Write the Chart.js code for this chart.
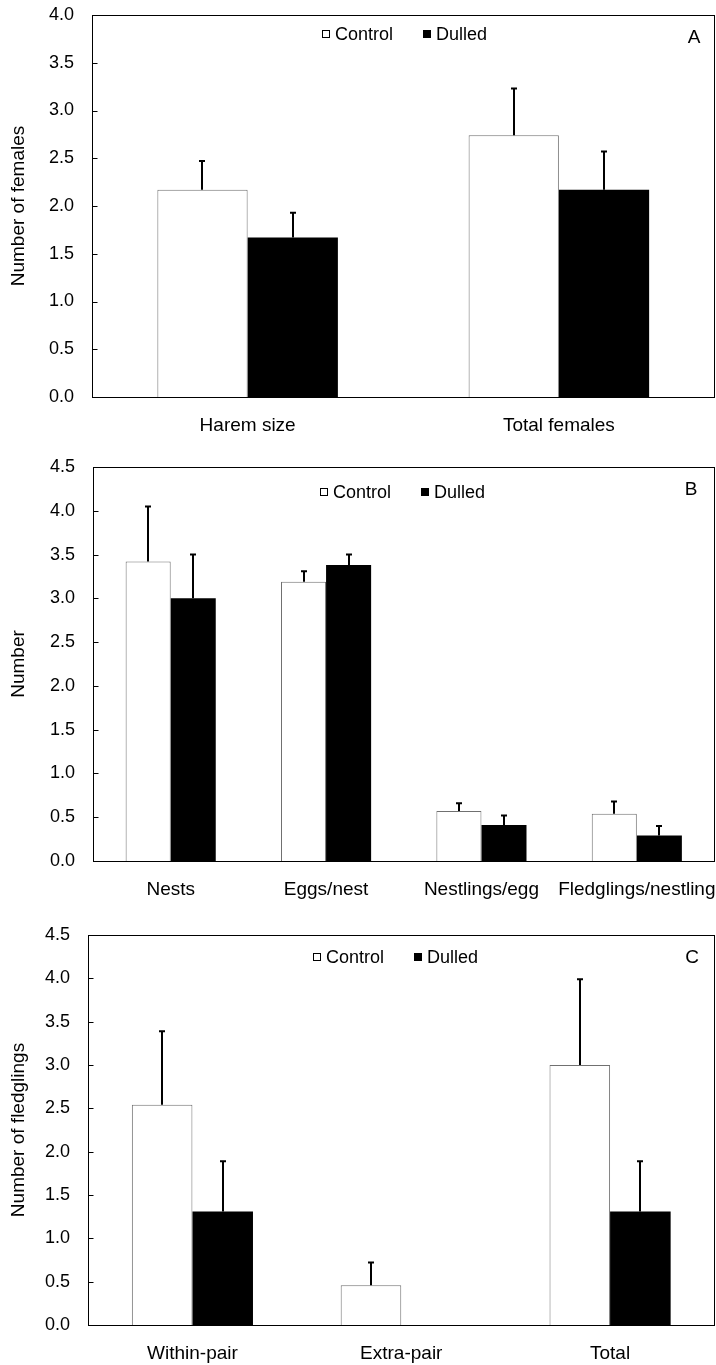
<!DOCTYPE html>
<html>
<head>
<meta charset="utf-8">
<script src="https://cdn.jsdelivr.net/npm/chart.js@4.4.1/dist/chart.umd.min.js"></script>
<style>
  body { margin: 0; background: #fff; width: 716px; height: 1365px; position: relative; overflow: hidden; }
  .panel { position: absolute; left: 0; width: 716px; }
</style>
</head>
<body>
<div class="panel" style="top:0;height:450px"><canvas id="chartA"></canvas></div>
<div class="panel" style="top:450px;height:455px"><canvas id="chartB"></canvas></div>
<div class="panel" style="top:905px;height:460px"><canvas id="chartC"></canvas></div>
<script>
// Panel A - females
const catsA = ['Harem size', 'Total females'];
const controlA = [2.17, 2.74];
const controlErrA = [0.30, 0.49];
const dulledA = [1.67, 2.17];
const dulledErrA = [0.26, 0.40];

// Panel B - nesting
const catsB = ['Nests', 'Eggs/nest', 'Nestlings/egg', 'Fledglings/nestling'];
const controlB = [3.42, 3.19, 0.57, 0.54];
const controlErrB = [0.63, 0.12, 0.09, 0.14];
const dulledB = [3.00, 3.38, 0.41, 0.29];
const dulledErrB = [0.50, 0.12, 0.11, 0.11];

// Panel C - fledglings
const catsC = ['Within-pair', 'Extra-pair', 'Total'];
const controlC = [2.54, 0.46, 3.00];
const controlErrC = [0.85, 0.26, 0.99];
const dulledC = [1.31, 0, 1.31];
const dulledErrC = [0.58, null, 0.58];

const seriesNames = ['Control', 'Dulled'];

Chart.defaults.font.family = '"Liberation Sans", Arial, sans-serif';
Chart.defaults.color = '#000';

// error bars, upper half only
const errorBars = {
    id: 'errorBars',
    afterDatasetsDraw(chart) {
        const ctx = chart.ctx;
        const y = chart.scales.y;
        chart.data.datasets.forEach((ds, i) => {
            const meta = chart.getDatasetMeta(i);
            meta.data.forEach((bar, j) => {
                const e = ds.errors[j];
                if (e == null) return;
                const top = y.getPixelForValue(ds.data[j] + e);
                const x = Math.round(bar.x);
                ctx.save();
                ctx.strokeStyle = '#000';
                ctx.lineWidth = 2;
                ctx.beginPath();
                ctx.moveTo(x, bar.y);
                ctx.lineTo(x, top);
                ctx.moveTo(x - 3, top);
                ctx.lineTo(x + 3, top);
                ctx.stroke();
                ctx.restore();
            });
        });
    }
};

// box frame, inner ticks, legend and panel letter
const decor = {
    id: 'decor',
    afterDraw(chart, args, opts) {
        const ctx = chart.ctx;
        const { left, right, top, bottom } = chart.chartArea;
        const y = chart.scales.y;
        ctx.save();
        ctx.strokeStyle = '#000';
        ctx.lineWidth = 1;
        const l = Math.round(left) + 0.5, t = Math.round(top) + 0.5;
        const r = Math.round(right) - 0.5, b = Math.round(bottom) + 0.5;
        ctx.strokeRect(l, t, r - l, b - t);
        ctx.beginPath();
        y.ticks.forEach(tk => {
            const py = Math.round(y.getPixelForValue(tk.value)) + 0.5;
            ctx.moveTo(l, py);
            ctx.lineTo(l + 5, py);
        });
        ctx.stroke();

        // legend
        ctx.font = '18px "Liberation Sans", Arial, sans-serif';
        ctx.textBaseline = 'middle';
        ctx.textAlign = 'left';
        chart.data.datasets.forEach((ds, i) => {
            const x = opts.legendX[i];
            const ly = opts.legendY;
            if (i === 0) {
                ctx.fillStyle = '#fff';
                ctx.fillRect(x, ly - 4, 8, 8);
                ctx.strokeRect(x + 0.5, ly - 3.5, 7, 7);
            } else {
                ctx.fillStyle = '#000';
                ctx.fillRect(x, ly - 4, 8, 8);
            }
            ctx.fillStyle = '#000';
            ctx.fillText(ds.label, x + 13, ly + 1);
        });

        // panel letter
        ctx.textAlign = 'center';
        ctx.font = '19px "Liberation Sans", Arial, sans-serif';
        ctx.fillText(opts.letter, opts.letterX, opts.letterY);
        ctx.restore();
    }
};

function makeChart(id, cats, ctrl, ctrlErr, dull, dullErr, yMax, yTitle, lay) {
    return new Chart(document.getElementById(id), {
        type: 'bar',
        data: {
            labels: cats,
            datasets: [
                { label: seriesNames[0], data: ctrl, errors: ctrlErr, backgroundColor: '#fff', borderColor: '#707070', borderWidth: 1 },
                { label: seriesNames[1], data: dull, errors: dullErr, backgroundColor: '#000', borderWidth: 0 }
            ]
        },
        options: {
            responsive: true,
            maintainAspectRatio: false,
            animation: false,
            layout: { padding: { left: 0, top: lay.top, right: 1.5, bottom: 0 } },
            datasets: { bar: { categoryPercentage: 0.58, barPercentage: 1 } },
            plugins: {
                legend: { display: false },
                tooltip: { enabled: false },
                decor: { legendX: lay.legendX, legendY: lay.legendY, letter: lay.letter, letterX: lay.letterX, letterY: lay.letterY }
            },
            scales: {
                x: {
                    grid: { display: false, drawTicks: false },
                    border: { display: false },
                    ticks: { font: { size: 19 }, padding: 17, maxRotation: 0, autoSkip: false },
                    afterFit(s) { s.height = lay.xH; s.paddingLeft = 0; s.paddingRight = 0; }
                },
                y: {
                    min: 0,
                    max: yMax,
                    grid: { display: false, drawTicks: false },
                    border: { display: false },
                    ticks: { stepSize: 0.5, font: { size: 18 }, padding: 18, callback: v => v.toFixed(1) },
                    title: { display: true, text: yTitle, font: { size: 19 }, padding: { top: 7, bottom: 0 } },
                    afterFit(s) { s.width = lay.yW; s.paddingTop = 0; s.paddingBottom = 0; }
                }
            }
        },
        plugins: [errorBars, decor]
    });
}

makeChart('chartA', catsA, controlA, controlErrA, dulledA, dulledErrA, 4.0, 'Number of females',
    { top: 15, xH: 53, yW: 92, legendX: [322, 423], legendY: 34, letter: 'A', letterX: 694, letterY: 38 });
makeChart('chartB', catsB, controlB, controlErrB, dulledB, dulledErrB, 4.5, 'Number',
    { top: 17, xH: 44, yW: 93, legendX: [320, 421], legendY: 42, letter: 'B', letterX: 691, letterY: 40 });
makeChart('chartC', catsC, controlC, controlErrC, dulledC, dulledErrC, 4.5, 'Number of fledglings',
    { top: 30, xH: 40, yW: 88, legendX: [313, 414], legendY: 52, letter: 'C', letterX: 692, letterY: 53 });
</script>
</body>
</html>
